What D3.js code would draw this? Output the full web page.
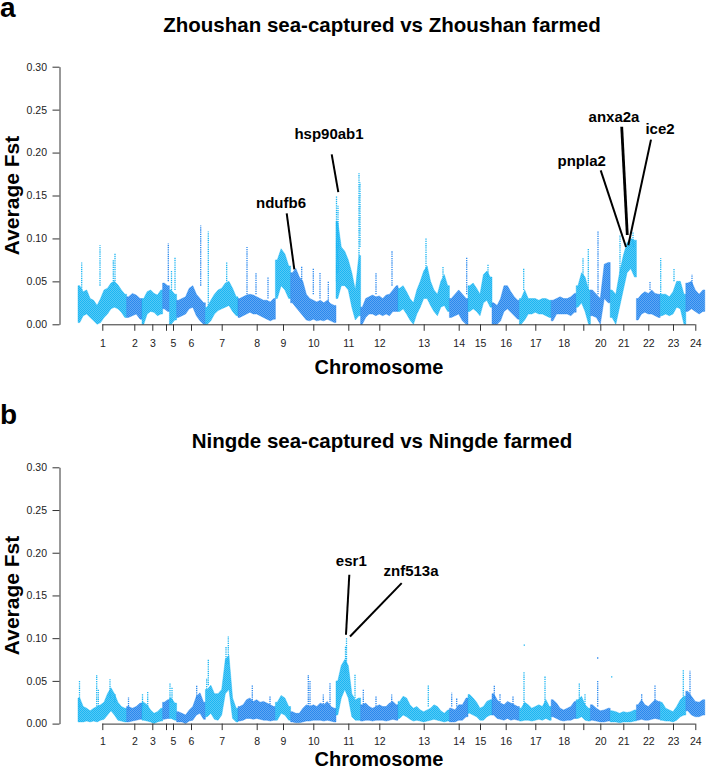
<!DOCTYPE html>
<html>
<head>
<meta charset="utf-8">
<script src="https://cdn.jsdelivr.net/npm/d3@7"></script>
<style>
  body { margin: 0; background: #fff; }
  text { font-family: 'Liberation Sans', Arial, Helvetica, sans-serif; }
</style>
</head>
<body>
<div id="chart"></div>
<script>
// chromosomes and their (approximate) lengths in Mb
const chroms = ['1', '2', '3', '4', '5', '6', '7', '8', '9', '10', '11', '12',
  '13', '14', '15', '16', '17', '18', '19', '20', '21', '22', '23', '24']
const chromLen = [48.6, 15.4, 20.6, 6.8, 7.2, 28.8, 32.6, 37.4, 15.2, 45.4, 24.6, 37.4,
  51.4, 18.6, 24, 27.4, 31.8, 25, 14.2, 19.8, 26.2, 23.8, 25.6, 19]
// labels R dropped because they would overlap
const hiddenLabels = ['4', '19']
const yTicks = [0, 0.05, 0.10, 0.15, 0.20, 0.25, 0.30]

// panel a: Zhoushan, windowed Fst band per chromosome (low / high edge)
const titleA = 'Zhoushan sea-captured vs Zhoushan farmed'
const loA = [
  [0.002, 0.010, 0.012, 0.008, 0.004, 0.000, 0.002, 0.008, 0.012, 0.018, 0.020, 0.018, 0.014, 0.008],
  [0.008, 0.010, 0.012, 0.006],
  [0.000, 0.012, 0.015, 0.014, 0.010, 0.012],
  [0.018, 0.015],
  [0.000, 0.005],
  [0.008, 0.010, 0.012, 0.018, 0.020, 0.010, 0.004, 0.000],
  [0.000, 0.004, 0.012, 0.016, 0.018, 0.020, 0.022, 0.015, 0.010],
  [0.008, 0.010, 0.012, 0.014, 0.012, 0.012, 0.010, 0.008, 0.006, 0.004, 0.006],
  [0.030, 0.045, 0.040, 0.030],
  [0.025, 0.020, 0.015, 0.010, 0.005, 0.004, 0.006, 0.004, 0.005, 0.004, 0.006, 0.004, 0.002],
  [0.030, 0.045, 0.045, 0.040, 0.020, 0.005, 0.010],
  [0.000, 0.008, 0.012, 0.012, 0.010, 0.012, 0.010, 0.012, 0.010, 0.015, 0.015],
  [0.015, 0.018, 0.012, 0.005, 0.000, 0.012, 0.020, 0.030, 0.030, 0.022, 0.015, 0.010, 0.020, 0.022, 0.015],
  [0.008, 0.010, 0.012, 0.004, 0.000],
  [0.015, 0.018, 0.015, 0.010, 0.025, 0.028, 0.020],
  [0.000, 0.000, 0.004, 0.015, 0.018, 0.014, 0.010, 0.006],
  [0.000, 0.005, 0.012, 0.012, 0.014, 0.012, 0.012, 0.010, 0.008],
  [0.004, 0.012, 0.012, 0.012, 0.012, 0.010, 0.014],
  [0.020, 0.025, 0.015, 0.000],
  [0.010, 0.008, 0.000, 0.030, 0.025],
  [0.008, 0.000, 0.020, 0.040, 0.060, 0.065, 0.055],
  [0.005, 0.012, 0.014, 0.012, 0.012, 0.010, 0.008],
  [0.010, 0.012, 0.010, 0.012, 0.020, 0.018, 0.000],
  [0.015, 0.018, 0.015, 0.012, 0.015]
]
const hiA = [
  [0.045, 0.038, 0.040, 0.030, 0.028, 0.022, 0.030, 0.040, 0.042, 0.048, 0.050, 0.046, 0.040, 0.035],
  [0.032, 0.036, 0.034, 0.030],
  [0.030, 0.038, 0.040, 0.036, 0.034, 0.040],
  [0.048, 0.045],
  [0.040, 0.035],
  [0.028, 0.030, 0.032, 0.042, 0.045, 0.035, 0.030, 0.025],
  [0.020, 0.028, 0.035, 0.040, 0.042, 0.048, 0.050, 0.042, 0.032],
  [0.030, 0.032, 0.034, 0.035, 0.034, 0.032, 0.030, 0.028, 0.028, 0.026, 0.030],
  [0.075, 0.088, 0.082, 0.068],
  [0.060, 0.065, 0.055, 0.050, 0.035, 0.030, 0.028, 0.026, 0.028, 0.025, 0.028, 0.024, 0.022],
  [0.120, 0.090, 0.085, 0.075, 0.060, 0.040, 0.080],
  [0.020, 0.030, 0.032, 0.034, 0.032, 0.033, 0.030, 0.034, 0.035, 0.040, 0.045],
  [0.042, 0.045, 0.038, 0.030, 0.025, 0.040, 0.050, 0.062, 0.068, 0.050, 0.040, 0.035, 0.050, 0.058, 0.045],
  [0.030, 0.035, 0.040, 0.035, 0.030],
  [0.045, 0.048, 0.042, 0.035, 0.058, 0.062, 0.055],
  [0.025, 0.022, 0.030, 0.045, 0.045, 0.038, 0.032, 0.028],
  [0.030, 0.040, 0.030, 0.030, 0.030, 0.028, 0.030, 0.030, 0.028],
  [0.028, 0.030, 0.032, 0.030, 0.030, 0.032, 0.036],
  [0.045, 0.060, 0.055, 0.040],
  [0.040, 0.035, 0.030, 0.070, 0.072],
  [0.040, 0.035, 0.060, 0.080, 0.095, 0.100, 0.098],
  [0.030, 0.035, 0.038, 0.036, 0.040, 0.036, 0.035],
  [0.035, 0.035, 0.032, 0.038, 0.050, 0.050, 0.035],
  [0.048, 0.050, 0.040, 0.035, 0.040]
]
// single-window streaks: [chromosome, position in Mb, low, high]
const spikesA = [
  ['1', 3.7, 0.040, 0.072], ['1', 22, 0.045, 0.092], ['1', 35.3, 0.045, 0.075], ['1', 37, 0.050, 0.083],
  ['4', 5.7, 0.050, 0.094], ['5', 2.1, 0.040, 0.062], ['5', 5.6, 0.040, 0.078],
  ['6', 24.1, 0.045, 0.115], ['7', 2.9, 0.020, 0.108], ['7', 21.3, 0.050, 0.073],
  ['8', 9, 0.035, 0.090], ['8', 18, 0.035, 0.060], ['8', 30, 0.030, 0.055],
  ['10', 11.1, 0.050, 0.068], ['10', 22.7, 0.035, 0.065], ['10', 29.4, 0.030, 0.060], ['10', 37.7, 0.025, 0.050],
  ['11', 0.5, 0.050, 0.150], ['11', 2, 0.060, 0.138], ['11', 23, 0.080, 0.176], ['11', 24, 0.090, 0.165],
  ['12', 15.4, 0.035, 0.060], ['12', 31.4, 0.045, 0.085], ['13', 28, 0.060, 0.100], ['13', 45, 0.055, 0.068],
  ['14', 17.3, 0.035, 0.078], ['15', 20, 0.055, 0.070], ['17', 4.3, 0.040, 0.065],
  ['19', 6.8, 0.055, 0.078], ['19', 12.1, 0.040, 0.088], ['20', 7.6, 0.035, 0.108],
  ['21', 9.8, 0.060, 0.104], ['21', 22.8, 0.090, 0.108], ['22', 13.6, 0.040, 0.050],
  ['23', 0.5, 0.035, 0.077], ['23', 13.8, 0.050, 0.065], ['24', 6.2, 0.045, 0.058]
]
const genesA = ['hsp90ab1', 'ndufb6', 'pnpla2', 'anxa2a', 'ice2']
// [chromosome, position in Mb, Fst] of the annotated window
const geneSitesA = [['11', 2.3, 0.154], ['10', 3.7, 0.064], ['21', 15.8, 0.090], ['21', 17.1, 0.104], ['21', 18.1, 0.092]]

// panel b: Ningde
const titleB = 'Ningde sea-captured vs Ningde farmed'
const loB = [
  [0.002, 0.002, 0.003, 0.002, 0.003, 0.002, 0.004, 0.005, 0.010, 0.015, 0.010, 0.004, 0.003, 0.002],
  [0.002, 0.003, 0.004, 0.005],
  [0.004, 0.003, 0.002, 0.000, 0.002, 0.003],
  [0.005, 0.006],
  [0.006, 0.004],
  [0.002, 0.002, 0.000, 0.003, 0.004, 0.010, 0.012, 0.005],
  [0.008, 0.012, 0.005, 0.004, 0.010, 0.035, 0.040, 0.006, 0.002],
  [0.003, 0.004, 0.006, 0.006, 0.005, 0.006, 0.005, 0.004, 0.004, 0.003, 0.004],
  [0.004, 0.012, 0.010, 0.004],
  [0.002, 0.001, 0.001, 0.002, 0.003, 0.003, 0.004, 0.004, 0.004, 0.003, 0.004, 0.003, 0.002],
  [0.010, 0.030, 0.040, 0.030, 0.008, 0.004, 0.004],
  [0.003, 0.004, 0.004, 0.003, 0.004, 0.004, 0.004, 0.003, 0.004, 0.005, 0.004],
  [0.006, 0.010, 0.008, 0.005, 0.003, 0.004, 0.003, 0.002, 0.003, 0.004, 0.005, 0.004, 0.003, 0.002, 0.003],
  [0.002, 0.002, 0.004, 0.004, 0.008],
  [0.012, 0.010, 0.008, 0.004, 0.004, 0.008, 0.010],
  [0.010, 0.006, 0.005, 0.004, 0.006, 0.004, 0.005, 0.004],
  [0.003, 0.004, 0.004, 0.003, 0.004, 0.005, 0.004, 0.006, 0.004],
  [0.008, 0.006, 0.004, 0.003, 0.004, 0.004, 0.006],
  [0.006, 0.008, 0.004, 0.003],
  [0.004, 0.003, 0.002, 0.002, 0.003],
  [0.002, 0.002, 0.001, 0.002, 0.002, 0.002, 0.003],
  [0.004, 0.005, 0.004, 0.004, 0.005, 0.006, 0.005],
  [0.004, 0.003, 0.003, 0.002, 0.004, 0.008, 0.010],
  [0.015, 0.010, 0.008, 0.008, 0.010]
]
const hiB = [
  [0.030, 0.020, 0.018, 0.015, 0.018, 0.020, 0.022, 0.025, 0.035, 0.042, 0.035, 0.025, 0.020, 0.018],
  [0.020, 0.018, 0.020, 0.024],
  [0.025, 0.022, 0.016, 0.012, 0.014, 0.018],
  [0.025, 0.028],
  [0.030, 0.024],
  [0.014, 0.012, 0.010, 0.016, 0.020, 0.032, 0.036, 0.025],
  [0.040, 0.045, 0.035, 0.035, 0.040, 0.075, 0.080, 0.030, 0.018],
  [0.020, 0.022, 0.028, 0.030, 0.026, 0.028, 0.025, 0.026, 0.024, 0.022, 0.020],
  [0.025, 0.033, 0.030, 0.020],
  [0.014, 0.012, 0.012, 0.018, 0.022, 0.020, 0.022, 0.020, 0.024, 0.022, 0.026, 0.020, 0.018],
  [0.050, 0.068, 0.075, 0.068, 0.035, 0.028, 0.030],
  [0.022, 0.024, 0.020, 0.018, 0.020, 0.022, 0.020, 0.020, 0.024, 0.026, 0.022],
  [0.026, 0.032, 0.030, 0.022, 0.018, 0.020, 0.016, 0.014, 0.016, 0.018, 0.022, 0.020, 0.015, 0.012, 0.016],
  [0.018, 0.016, 0.022, 0.022, 0.030],
  [0.034, 0.030, 0.025, 0.018, 0.020, 0.026, 0.028],
  [0.035, 0.028, 0.024, 0.022, 0.026, 0.024, 0.022, 0.020],
  [0.018, 0.025, 0.022, 0.018, 0.020, 0.022, 0.020, 0.028, 0.020],
  [0.028, 0.024, 0.018, 0.016, 0.018, 0.020, 0.026],
  [0.028, 0.032, 0.022, 0.018],
  [0.022, 0.018, 0.015, 0.016, 0.018],
  [0.015, 0.014, 0.012, 0.014, 0.013, 0.014, 0.016],
  [0.022, 0.028, 0.022, 0.020, 0.024, 0.028, 0.026],
  [0.025, 0.018, 0.016, 0.014, 0.020, 0.028, 0.032],
  [0.038, 0.032, 0.026, 0.025, 0.028]
]
const spikesB = [
  ['1', 1.5, 0.020, 0.050], ['1', 18.7, 0.020, 0.057], ['1', 20.3, 0.020, 0.040], ['1', 32, 0.030, 0.052], ['1', 37, 0.025, 0.035],
  ['2', 1.9, 0.015, 0.031], ['3', 0.5, 0.020, 0.035], ['3', 5.7, 0.020, 0.037],
  ['5', 0.6, 0.025, 0.047], ['5', 2.6, 0.025, 0.042], ['6', 20.1, 0.030, 0.045],
  ['7', 1.3, 0.040, 0.053], ['7', 2.9, 0.045, 0.075], ['7', 20.6, 0.070, 0.090], ['7', 22.9, 0.070, 0.102],
  ['8', 14.3, 0.025, 0.045], ['8', 32, 0.020, 0.032],
  ['10', 17.7, 0.020, 0.057], ['10', 19.4, 0.020, 0.050], ['10', 32.7, 0.020, 0.034], ['10', 39.4, 0.020, 0.048],
  ['11', 9.5, 0.060, 0.090], ['11', 10.5, 0.070, 0.100], ['11', 19, 0.030, 0.058],
  ['12', 2.7, 0.020, 0.040], ['12', 15.4, 0.020, 0.032], ['12', 31.1, 0.020, 0.034],
  ['13', 30.3, 0.020, 0.045], ['14', 2.3, 0.020, 0.036], ['14', 7.3, 0.020, 0.030],
  ['16', 2.3, 0.030, 0.045], ['16', 8, 0.025, 0.035], ['16', 21, 0.020, 0.033],
  ['17', 4.6, 0.020, 0.060], ['17', 4.9, 0.091, 0.093], ['17', 25.6, 0.020, 0.055],
  ['19', 3.1, 0.025, 0.047], ['19', 8.8, 0.020, 0.035],
  ['20', 7.3, 0.020, 0.050], ['20', 7.3, 0.076, 0.078], ['21', 1.5, 0.054, 0.056],
  ['22', 5.3, 0.025, 0.035], ['22', 18.6, 0.025, 0.045], ['23', 23.1, 0.030, 0.063], ['24', 4.2, 0.030, 0.062]
]
const genesB = ['esr1', 'znf513a']
const geneSitesB = [['11', 10, 0.104], ['11', 14, 0.102]]

// layout
const width = 708
const height = 770
const colors = ['#1db6f3', '#2b89ee']
const xRange = [78, 704.8]
const font = "'Liberation Sans', Arial, Helvetica, sans-serif"
// [line start dx, dy, label dx, dy] relative to the annotated window, in px
const calloutA = [[-6.6, -37.7, -9.3, -53.4], [-7.6, -56, -13.3, -61], [-25.3, -76.7, -44.3, -81],
  [-5.6, -108.3, -13.3, -113.3], [22.7, -105.7, 31.7, -111]]
const calloutB = [[3.3, -60, 5.3, -69], [51.7, -53.3, 61, -60]]

const svg = d3.select('#chart')
  .append('svg')
  .attr('width', width)
  .attr('height', height)

// speckled fills so the bands read like dense point clouds
const defs = svg.append('defs')
colors.forEach(function (col, i) {
  const pat = defs.append('pattern')
    .attr('id', 'speck' + i)
    .attr('patternUnits', 'userSpaceOnUse')
    .attr('width', 2)
    .attr('height', 2)
  pat.append('rect').attr('width', 2).attr('height', 2).attr('fill', col).attr('fill-opacity', 0.75)
  pat.append('rect').attr('width', 1).attr('height', 1).attr('fill', col)
  pat.append('rect').attr('x', 1).attr('y', 1).attr('width', 1).attr('height', 1).attr('fill', col)
})

const chromStart = [0].concat(Array.from(d3.cumsum(chromLen))).slice(0, chromLen.length)
const x = d3.scaleLinear()
  .domain([0, d3.sum(chromLen)])
  .range(xRange)

function drawPanel (p) {
  const g = svg.append('g')
  const y = d3.scaleLinear()
    .domain([0, 0.30])
    .range([p.bottom, p.top])

  // one band per chromosome, window centres joined, ends held to the chromosome edges
  const bands = p.lo.map(function (lows, c) {
    const step = chromLen[c] / lows.length
    const pts = lows.map(function (lo, j) {
      return { pos: chromStart[c] + (j + 0.5) * step, lo: lo, hi: p.hi[c][j] }
    })
    pts.unshift({ pos: chromStart[c], lo: lows[0], hi: p.hi[c][0] })
    pts.push({ pos: chromStart[c] + chromLen[c], lo: lows[lows.length - 1], hi: p.hi[c][lows.length - 1] })
    return { c: c, pts: pts }
  })

  const area = d3.area()
    .x(function (d) { return x(d.pos) })
    .y0(function (d) { return y(d.lo) })
    .y1(function (d) { return y(d.hi) })

  g.append('g')
    .selectAll('path')
    .data(bands)
    .join('path')
    .attr('d', function (d) { return area(d.pts) })
    .attr('fill', function (d) { return 'url(#speck' + (d.c % 2) + ')' })
    .attr('stroke', function (d) { return colors[d.c % 2] })
    .attr('stroke-width', 0.6)
    .attr('stroke-opacity', 0.7)

  g.append('g')
    .selectAll('line')
    .data(p.spikes)
    .join('line')
    .attr('x1', function (d) { return x(chromStart[chroms.indexOf(d[0])] + d[1]) })
    .attr('x2', function (d) { return x(chromStart[chroms.indexOf(d[0])] + d[1]) })
    .attr('y1', function (d) { return y(d[2]) })
    .attr('y2', function (d) { return y(d[3]) })
    .attr('stroke', function (d) { return colors[chroms.indexOf(d[0]) % 2] })
    .attr('stroke-width', 1.3)
    .attr('stroke-dasharray', '1.3,0.9')

  // y axis
  const yAxis = g.append('g')
    .attr('transform', 'translate(59.5,0)')
    .call(d3.axisLeft(y).tickValues(yTicks).tickFormat(d3.format('.2f')).tickSize(7).tickSizeOuter(0))
  yAxis.select('.domain').attr('stroke', '#333')
  yAxis.selectAll('.tick line').attr('stroke', '#333')
  yAxis.selectAll('.tick text')
    .attr('x', -12.5)
    .attr('fill', '#222')
    .style('font-size', '10.5px')
    .style('font-family', font)

  // x axis
  const mids = chromLen.map(function (len, i) { return chromStart[i] + len / 2 })
  const xAxis = g.append('g')
    .attr('transform', 'translate(0,' + p.bottom + ')')
    .call(d3.axisBottom(x)
      .tickValues(mids)
      .tickFormat(function (d, i) { return hiddenLabels.includes(chroms[i]) ? '' : chroms[i] })
      .tickSize(6.5)
      .tickSizeOuter(0))
  xAxis.select('.domain')
    .attr('d', 'M' + x(mids[0]) + ',0.5H' + x(mids[mids.length - 1]))
    .attr('stroke', '#333')
  xAxis.selectAll('.tick line').attr('stroke', '#333')
  xAxis.selectAll('.tick text')
    .attr('y', p.tickY)
    .attr('fill', '#222')
    .style('font-size', '10.5px')
    .style('font-family', font)

  // titles and labels
  g.append('text')
    .attr('x', 0)
    .attr('y', p.letterY)
    .style('font-size', '28px')
    .style('font-weight', 'bold')
    .text(p.letter)

  g.append('text')
    .attr('x', 382)
    .attr('y', p.titleY)
    .attr('text-anchor', 'middle')
    .style('font-size', '20.5px')
    .style('font-weight', 'bold')
    .text(p.title)

  g.append('text')
    .attr('transform', 'translate(18.5,' + (p.top + p.bottom) / 2 + ') rotate(-90)')
    .attr('text-anchor', 'middle')
    .style('font-size', '21px')
    .style('font-weight', 'bold')
    .text('Average Fst')

  g.append('text')
    .attr('x', 379)
    .attr('y', p.xLabelY)
    .attr('text-anchor', 'middle')
    .style('font-size', '20px')
    .style('font-weight', 'bold')
    .text('Chromosome')

  // gene callouts
  p.genes.forEach(function (gene, i) {
    const s = p.sites[i]
    const tx = x(chromStart[chroms.indexOf(s[0])] + s[1])
    const ty = y(s[2])
    const o = p.callout[i]
    g.append('line')
      .attr('x1', tx + o[0])
      .attr('y1', ty + o[1])
      .attr('x2', tx)
      .attr('y2', ty)
      .attr('stroke', '#000')
      .attr('stroke-width', gene === 'anxa2a' ? 2.8 : 2)
    g.append('text')
      .attr('x', tx + o[2])
      .attr('y', ty + o[3])
      .attr('text-anchor', 'middle')
      .style('font-size', '15px')
      .style('font-weight', 'bold')
      .text(gene)
  })
}

drawPanel({ letter: 'a', letterY: 17, title: titleA, titleY: 31.7, top: 66.7, bottom: 324.3, tickY: 15, xLabelY: 374.3,
  lo: loA, hi: hiA, spikes: spikesA, genes: genesA, sites: geneSitesA, callout: calloutA })
drawPanel({ letter: 'b', letterY: 424, title: titleB, titleY: 447.7, top: 467.3, bottom: 723.6, tickY: 14, xLabelY: 765.5,
  lo: loB, hi: hiB, spikes: spikesB, genes: genesB, sites: geneSitesB, callout: calloutB })
</script>
</body>
</html>
